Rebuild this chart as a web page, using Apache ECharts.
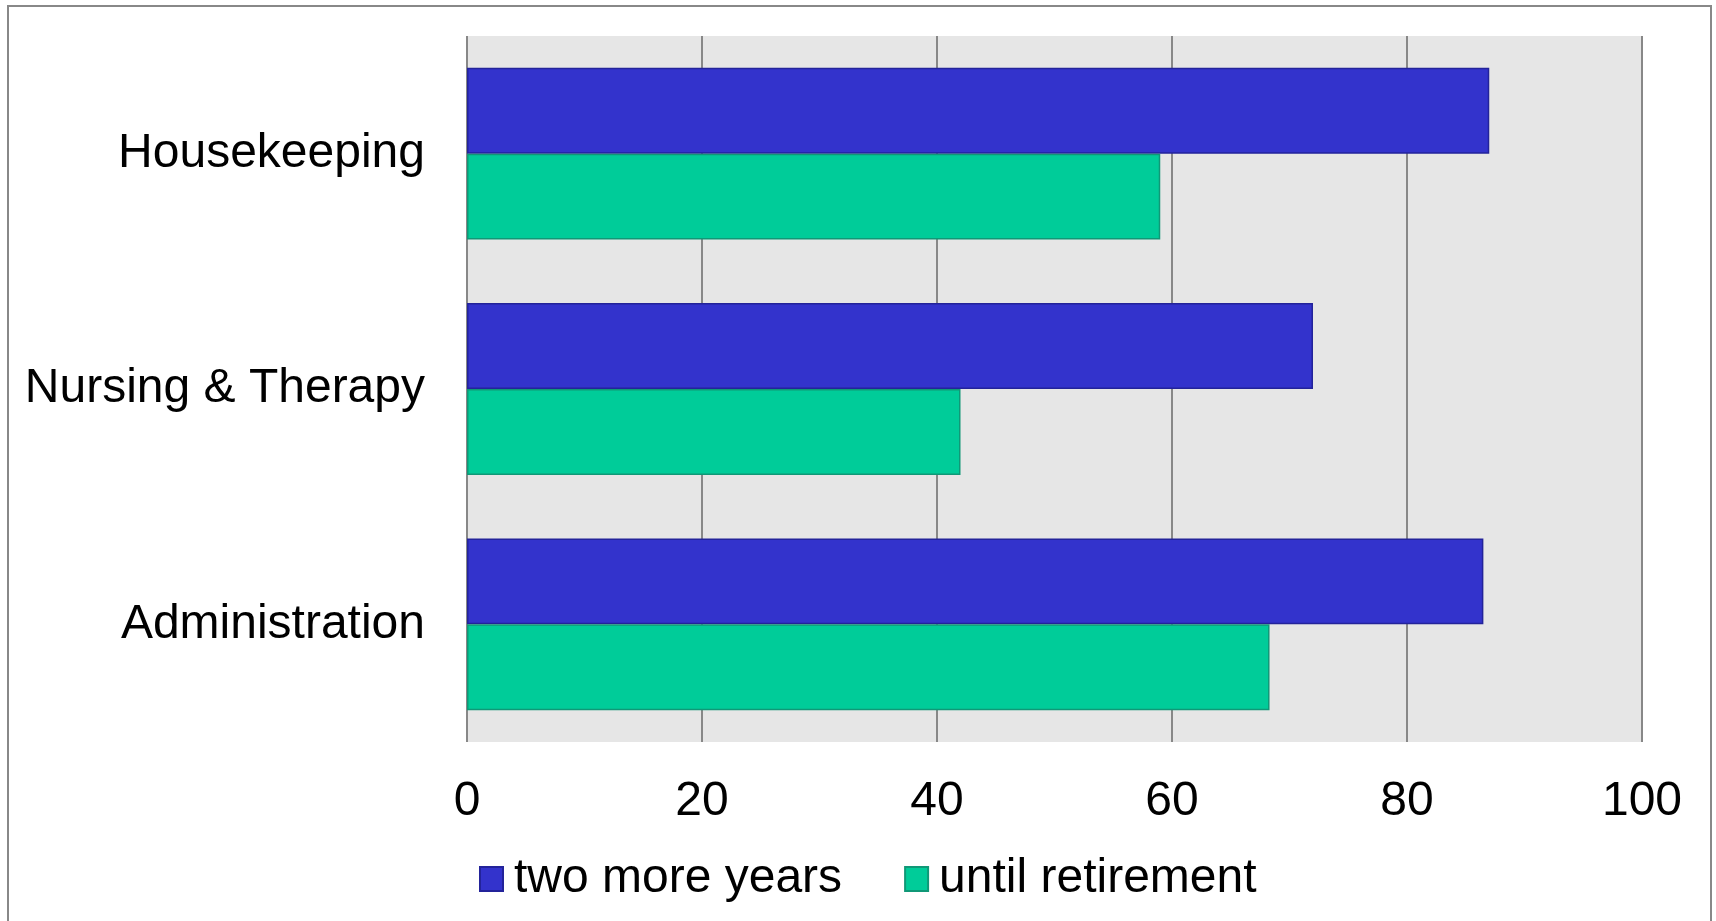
<!DOCTYPE html>
<html>
<head>
<meta charset="utf-8">
<script src="https://cdn.jsdelivr.net/npm/echarts@6/dist/echarts.min.js"></script>
<style>
  html, body { margin: 0; padding: 0; background: #fff; }
  #container { width: 1716px; height: 921px; }
</style>
</head>
<body>
<div id="container"></div>
<script>
// categories bottom -> top (category axis starts at the bottom)
var departments = ['Administration', 'Nursing & Therapy', 'Housekeeping'];
var twoMoreYears = [86.5, 72, 87];
var untilRetirement = [68.3, 42, 59];
var xTicks = [0, 20, 40, 60, 80, 100];

var chart = echarts.init(document.getElementById('container'));
var fontFam = '"Liberation Sans", Arial, sans-serif';

var option = {
  animation: false,
  textStyle: { fontFamily: fontFam },
  graphic: [{
    type: 'rect',
    shape: { x: 8, y: 6, width: 1703, height: 1000 },
    style: { fill: 'none', stroke: '#888', lineWidth: 2 },
    silent: true
  }],
  grid: {
    left: 467,
    right: 74,
    top: 36,
    bottom: 179,
    show: true,
    backgroundColor: '#e6e6e6',
    borderWidth: 0,
    outerBoundsMode: 'none'
  },
  legend: {
    data: ['two more years', 'until retirement'],
    left: 474,
    top: 850,
    itemWidth: 23,
    itemHeight: 24,
    itemGap: 62,
    icon: 'rect',
    textStyle: { fontSize: 48, color: '#000', fontFamily: fontFam, padding: [0, 0, 0, 6] }
  },
  xAxis: {
    type: 'value',
    min: xTicks[0],
    max: xTicks[xTicks.length - 1],
    interval: 20,
    axisLine: { show: false },
    axisTick: { show: false },
    axisLabel: { fontSize: 48, color: '#000', margin: 36, fontFamily: fontFam },
    splitLine: { show: true, lineStyle: { color: '#888', width: 2 } }
  },
  yAxis: {
    type: 'category',
    data: departments,
    axisLine: { show: false },
    axisTick: { show: false },
    axisLabel: { fontSize: 48, color: '#000', margin: 42, fontFamily: fontFam, padding: [8, 0, 0, 0] }
  },
  series: [
    {
      name: 'two more years',
      type: 'bar',
      data: twoMoreYears,
      barGap: '0%',
      barCategoryGap: '27%',
      itemStyle: { color: '#3333cc', borderColor: '#23239a', borderWidth: 1.5 }
    },
    {
      name: 'until retirement',
      type: 'bar',
      data: untilRetirement,
      barGap: '0%',
      barCategoryGap: '27%',
      itemStyle: { color: '#00cc99', borderColor: '#109877', borderWidth: 1.5 }
    }
  ]
};

chart.setOption(option);
</script>
</body>
</html>
